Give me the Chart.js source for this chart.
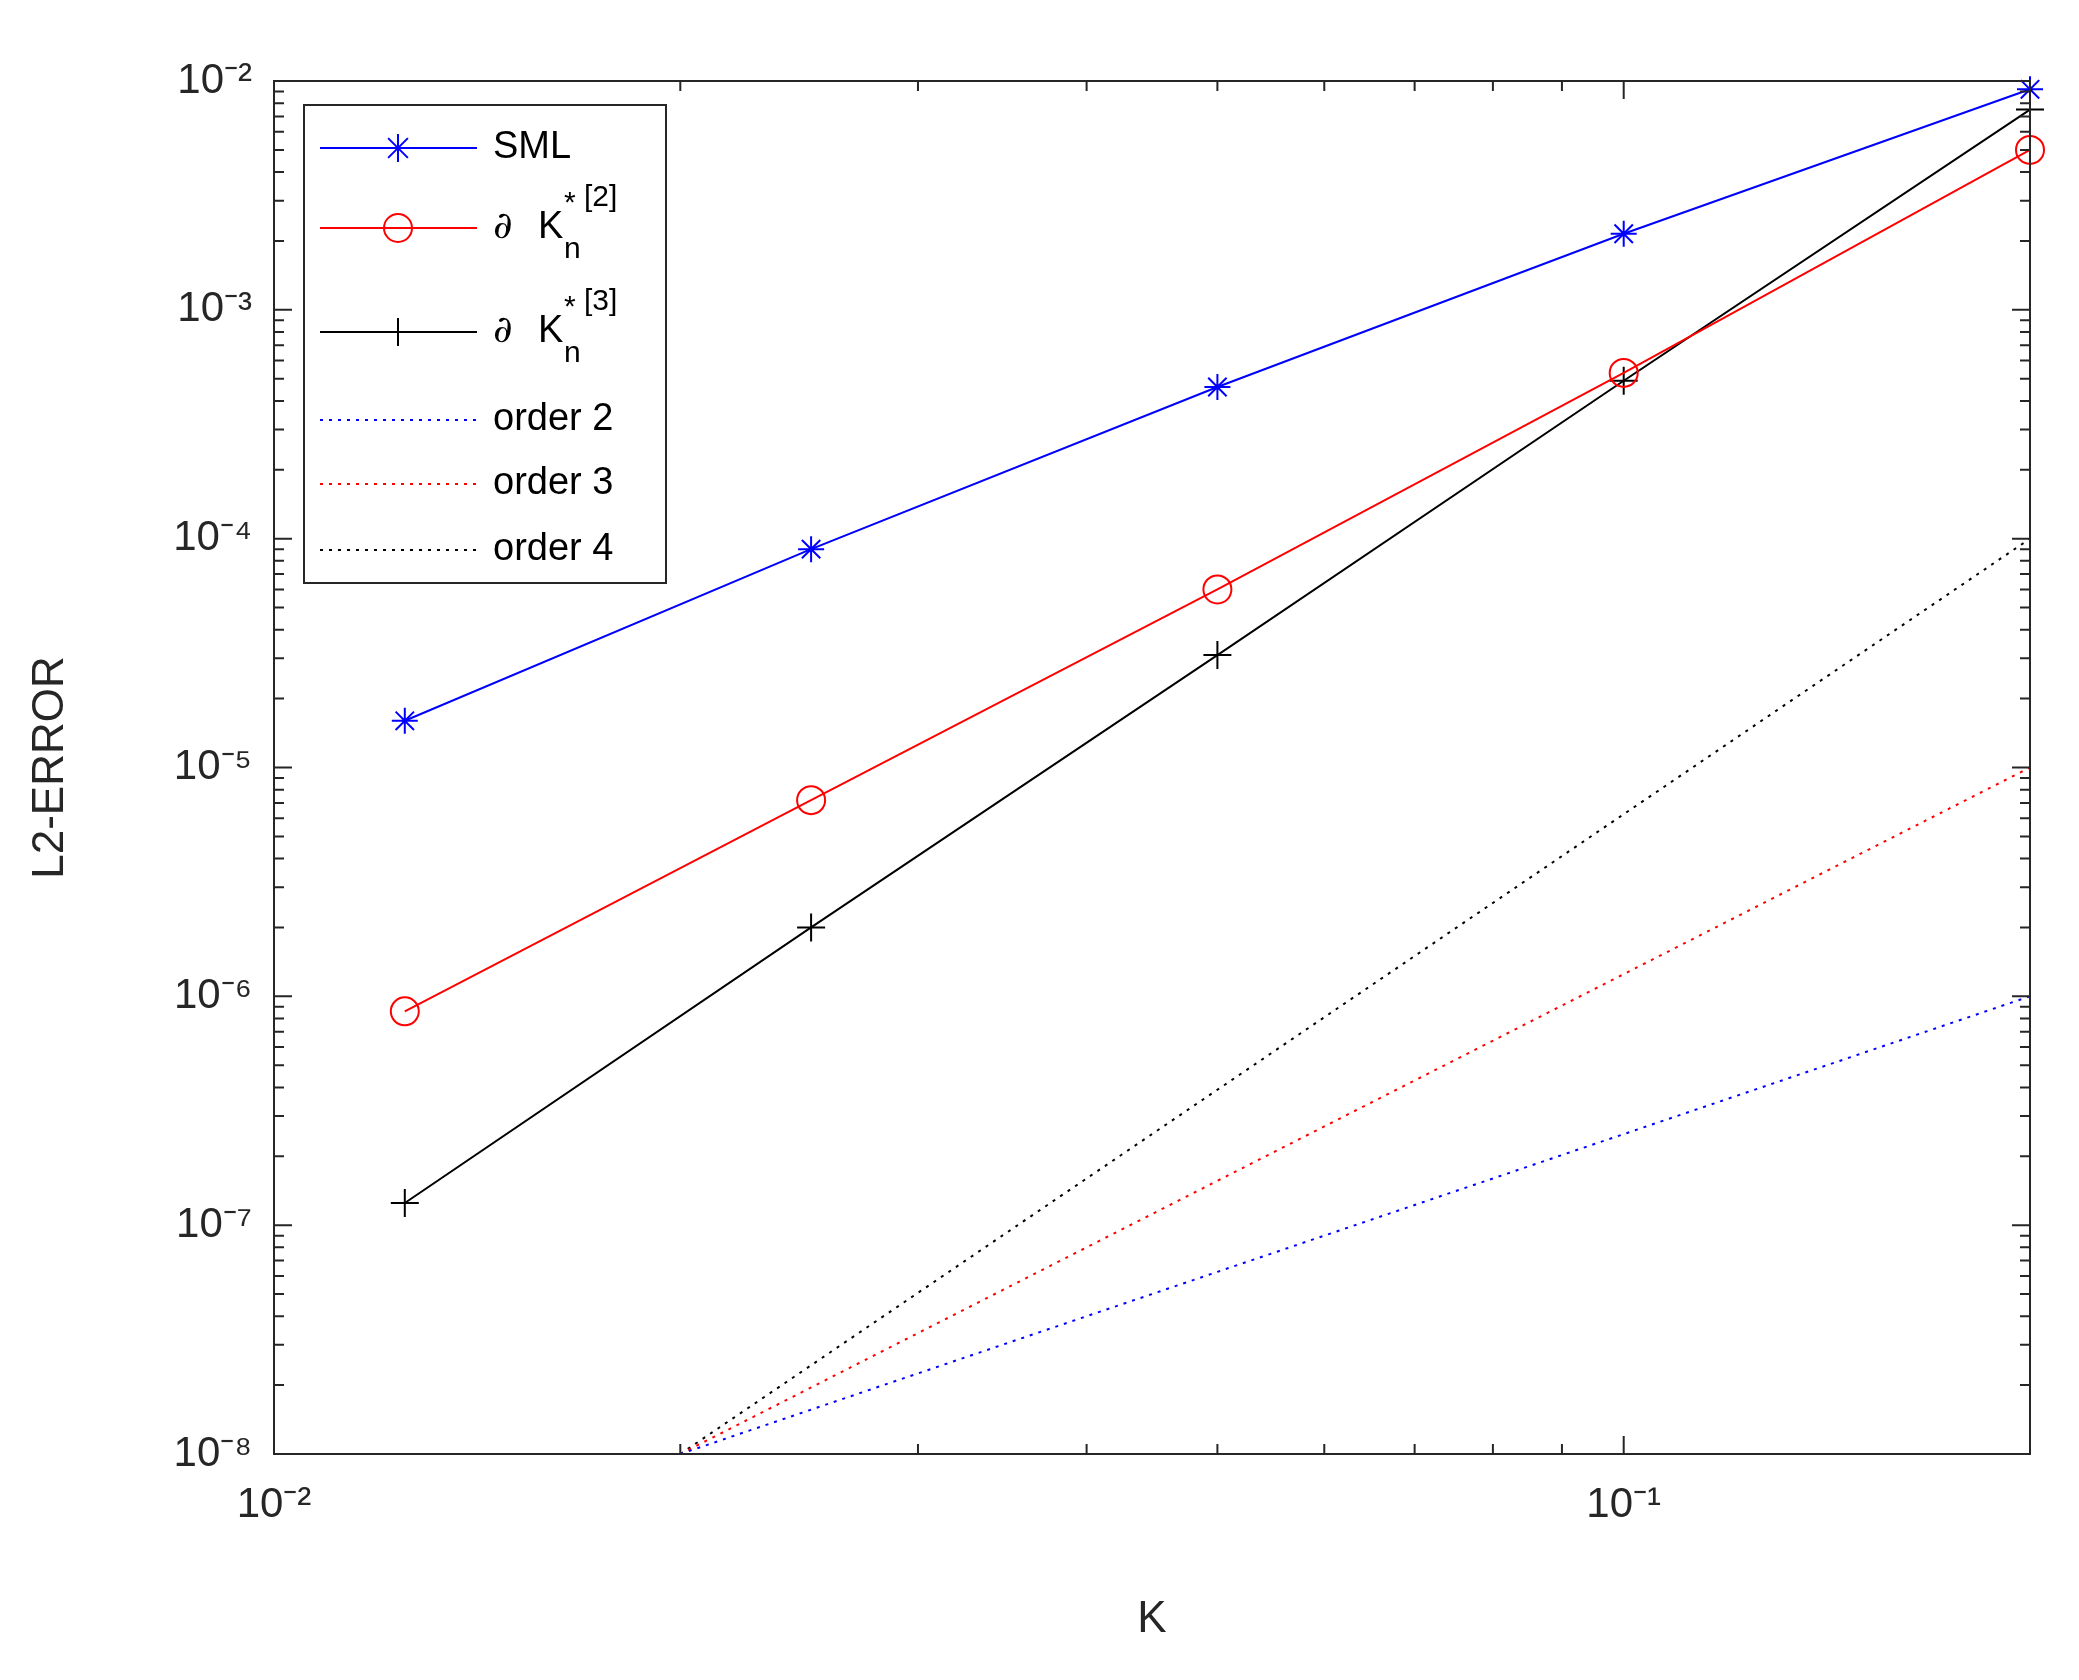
<!DOCTYPE html>
<html><head><meta charset="utf-8">
<script src="https://cdn.jsdelivr.net/npm/chart.js@4"></script>
<style>html,body{margin:0;background:#fff}#w{width:2079px;height:1680px}</style>
</head><body><div id="w"><canvas id="c"></canvas></div>
<script>
const kValues=[0.0125,0.025,0.05,0.1,0.2];
const smlErr=[1.6e-5,9e-5,4.6e-4,2.15e-3,9.2e-3];
const k2Err=[8.6e-7,7.2e-6,6e-5,5.3e-4,5e-3];
const k3Err=[1.25e-7,2e-6,3.1e-5,4.9e-4,7.5e-3];
const refK=[0.02,0.2];
const order2=[1e-8,1e-6];
const order3=[1e-8,1e-5];
const order4=[1e-8,1e-4];
const xTicks=[0.01,0.1];
const yTicks=[1e-8,1e-7,1e-6,1e-5,1e-4,1e-3,1e-2];
const sup={'-':'⁻','0':'⁰','1':'¹','2':'²','3':'³','4':'⁴','5':'⁵','6':'⁶','7':'⁷','8':'⁸','9':'⁹'};
const fmt=v=>'10'+String(Math.round(Math.log10(v))).split('').map(c=>sup[c]).join('');
const pts=(xs,ys)=>xs.map((x,i)=>({x,y:ys[i]}));
const F='Arial, "Liberation Sans", sans-serif';

const frame={id:'frame',afterDraw(ch){
 const c=ch.ctx,a=ch.chartArea,xs=ch.scales.x,ys=ch.scales.y;
 c.save();c.strokeStyle='#262626';c.lineWidth=2;
 c.strokeRect(a.left,a.top,a.right-a.left,a.bottom-a.top);
 c.beginPath();
 for(let e=-2;e<=-1;e++)for(let m=1;m<10;m++){const v=m*Math.pow(10,e);if(v>0.2)break;
  const p=xs.getPixelForValue(v),L=m==1?18:10;
  c.moveTo(p,a.bottom);c.lineTo(p,a.bottom-L);c.moveTo(p,a.top);c.lineTo(p,a.top+L);}
 for(let e=-8;e<=-2;e++)for(let m=1;m<10;m++){const v=m*Math.pow(10,e);if(v>1.0001e-2)break;
  const p=ys.getPixelForValue(v),L=m==1?18:10;
  c.moveTo(a.left,p);c.lineTo(a.left+L,p);c.moveTo(a.right,p);c.lineTo(a.right-L,p);}
 c.stroke();
 const lx=304,ly=105,lw=362,lh=478;
 c.fillStyle='#fff';c.fillRect(lx,ly,lw,lh);c.strokeStyle='#262626';c.lineWidth=2;c.strokeRect(lx,ly,lw,lh);
 const items=[['#0000ff',[],'star','SML',148],['#ff0000',[],'circle','K2',228],['#000',[],'cross','K3',332],
  ['#0000ff',[3,6],null,'order 2',420],['#ff0000',[3,6],null,'order 3',484],['#000',[3,6],null,'order 4',550]];
 for(const [col,dash,mk,txt,y] of items){
  c.strokeStyle=col;c.lineWidth=2;c.setLineDash(dash);c.beginPath();c.moveTo(320,y);c.lineTo(477,y);c.stroke();c.setLineDash([]);
  const mx=398,r=14;c.beginPath();
  if(mk=='star'){for(let k=0;k<4;k++){const t=k*Math.PI/4;c.moveTo(mx-r*Math.cos(t),y-r*Math.sin(t));c.lineTo(mx+r*Math.cos(t),y+r*Math.sin(t));}}
  if(mk=='circle'){c.arc(mx,y,r,0,2*Math.PI);}
  if(mk=='cross'){c.moveTo(mx-r,y);c.lineTo(mx+r,y);c.moveTo(mx,y-r);c.lineTo(mx,y+r);}
  c.stroke();
  c.fillStyle='#000';c.textBaseline='middle';c.font='38px '+F;
  if(txt.startsWith('K')){
   c.font='italic 38px "DejaVu Serif", serif';c.fillText('∂',493,y);
   c.font='38px '+F;c.fillText('K',538,y);
   c.font='30px '+F;c.fillText('n',564,y+22);c.fillText('*',564,y-24);
   c.fillText(txt=='K2'?'[2]':'[3]',584,y-30);
  } else c.fillText(txt,493,y);
 }
 c.restore();
}};

new Chart(document.getElementById('c'),{
 type:'line',
 data:{datasets:[
  {label:'SML',data:pts(kValues,smlErr),borderColor:'#0000ff',pointStyle:'star',pointRadius:13,pointBorderColor:'#0000ff',borderWidth:2,pointBorderWidth:2},
  {label:'K2',data:pts(kValues,k2Err),borderColor:'#ff0000',pointStyle:'circle',pointRadius:14,pointBackgroundColor:'rgba(0,0,0,0)',pointBorderColor:'#ff0000',borderWidth:2,pointBorderWidth:2},
  {label:'K3',data:pts(kValues,k3Err),borderColor:'#000',pointStyle:'cross',pointRadius:14,pointBorderColor:'#000',borderWidth:2,pointBorderWidth:2},
  {label:'order 2',data:pts(refK,order2),borderColor:'#0000ff',borderDash:[3,6],pointRadius:0,borderWidth:2},
  {label:'order 3',data:pts(refK,order3),borderColor:'#ff0000',borderDash:[3,6],pointRadius:0,borderWidth:2},
  {label:'order 4',data:pts(refK,order4),borderColor:'#000',borderDash:[3,6],pointRadius:0,borderWidth:2}
 ]},
 options:{responsive:true,maintainAspectRatio:false,animation:false,clip:false,
  layout:{padding:{left:20,right:49,top:81,bottom:30}},
  plugins:{legend:{display:false},tooltip:{enabled:false}},
  scales:{
   x:{type:'logarithmic',min:0.01,max:0.2,afterBuildTicks:s=>{s.ticks=xTicks.map(v=>({value:v}))},
    afterFit:s=>{s.height=196},
    grid:{display:false},border:{display:false},
    ticks:{callback:v=>fmt(v),color:'#262626',font:{size:42,family:F},padding:18,maxRotation:0},
    title:{display:true,text:'K',color:'#262626',font:{size:44,family:F},padding:{top:20}}},
   y:{type:'logarithmic',min:1e-8,max:1e-2,afterBuildTicks:s=>{s.ticks=yTicks.map(v=>({value:v}))},
    afterFit:s=>{s.width=254},
    grid:{display:false},border:{display:false},
    ticks:{callback:v=>fmt(v),color:'#262626',font:{size:42,family:F},padding:14},
    title:{display:true,text:'L2-ERROR',color:'#262626',font:{size:44,family:F},padding:{bottom:40}}}
  }},
 plugins:[frame]
});
</script></body></html>
